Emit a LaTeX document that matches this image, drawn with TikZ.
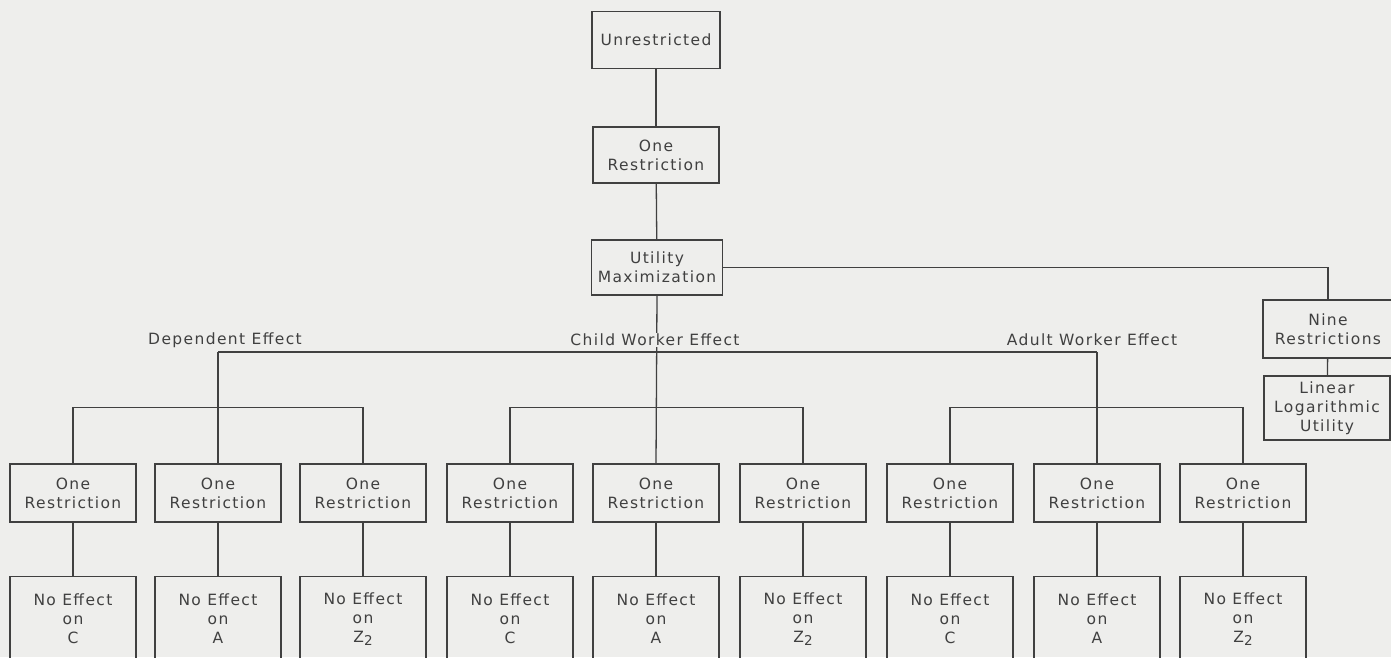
\documentclass[tikz,border=0pt]{standalone}
\usepackage{fontspec}
\setmainfont{DejaVu Sans}[LetterSpace=9]
\definecolor{ink}{HTML}{404040}
\definecolor{paper}{HTML}{EEEEEC}
\newcommand{\ztwo}{Z\raisebox{-0.4ex}{\fontsize{13.5}{13.5}\selectfont 2}}
\begin{document}
\begin{tikzpicture}[x=1pt,y=-1pt,
  txt/.style={text=ink,font=\fontsize{15.5}{19}\selectfont,align=center,inner sep=0pt},
  box/.style={txt,draw=ink,line width=1.3pt,minimum width=126pt},
  onebox/.style={box,minimum height=58pt},
  effbox/.style={draw=ink,line width=1.3pt,minimum width=126pt,minimum height=130pt,anchor=north,inner sep=0pt},
  link/.style={draw=ink,line width=1.3pt},
  lab/.style={txt,fill=paper,inner xsep=2pt,inner ysep=1pt}]
\fill[paper] (0,0) rectangle (1391,657);
\useasboundingbox (0,0) rectangle (1391,657);

% top column
\node[box,minimum width=128pt,minimum height=57pt] (u) at (656,40) {Unrestricted};
\node[box,minimum width=126pt,minimum height=56pt] (r1) at (656,155) {One\\Restriction};
\node[box,minimum width=131pt,minimum height=55pt] (um) at (657,267.5) {Utility\\Maximization};
\node[box,minimum width=130pt,minimum height=58pt] (nine) at (1328,329) {Nine\\Restrictions};
\node[box,minimum width=126pt,minimum height=64pt] (lin) at (1327,408) {Linear\\Logarithmic\\Utility};

\draw[link] (u) -- (r1);
\draw[link] (r1) -- (um);
\draw[link] (um.east) -| (nine.north);
\draw[link] (nine) -- (lin);

% second level
\foreach \n/\x in {d1/73,d2/218,d3/363,c1/510,c2/656,c3/803,a1/950,a2/1097,a3/1243}{
  \node[onebox] (\n) at (\x,493) {One\\Restriction};
}
% bottom level
\foreach \n/\x/\t in {d1/73/C,d2/218/A,d3/363/\ztwo,c1/510/C,c2/656/A,c3/803/\ztwo,a1/950/C,a2/1097/A,a3/1243/\ztwo}{
  \node[effbox] (e\n) at (\x,576) {};
  \node[txt] (t\n) at (\x,619) {No Effect\\on\\\t};
  \draw[link] (\n) -- (e\n);
}

% hub lines
\coordinate (dj) at (218,352);
\coordinate (aj) at (1097,352);
\draw[link] (dj) -- (aj);
\draw[link] (um.south) -- (c2.north);
\draw[link] (dj) -- (d2.north);
\draw[link] (aj) -- (a2.north);
\draw[link] (d1.north) -- ++(0,-56) -| (d3.north);
\draw[link] (c1.north) -- ++(0,-56) -| (c3.north);
\draw[link] (a1.north) -- ++(0,-56) -| (a3.north);

% labels
\node[lab] (ld) at (225,340) {Dependent Effect};
\node[lab] (lc) at (655,340) {Child Worker Effect};
\node[lab] (la) at (1092,340) {Adult Worker Effect};
\end{tikzpicture}
\end{document}
